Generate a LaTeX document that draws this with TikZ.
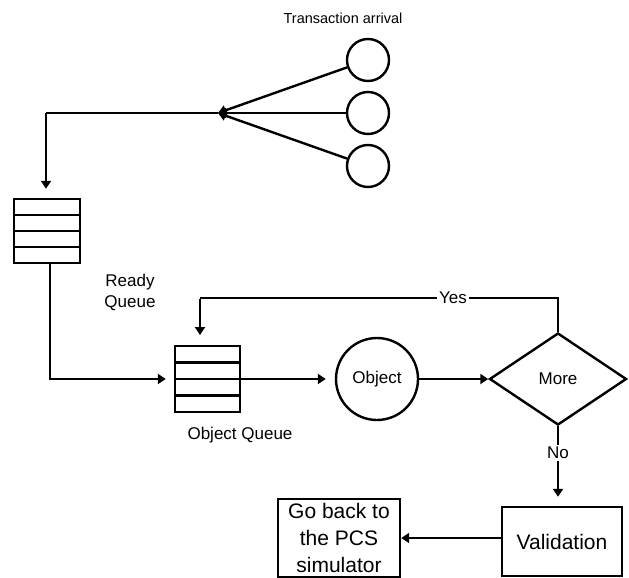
\documentclass[tikz,border=0pt]{standalone}
\usepackage{fontspec}
\setmainfont{Liberation Sans}
\usetikzlibrary{arrows.meta,shapes.geometric,calc}

\tikzset{
  line/.style={line width=2.4pt},
  arr/.style={line, -{Triangle[length=8pt,width=10pt]}},
  lbl/.style={font=\fontsize{17}{21}\selectfont, align=center, inner sep=2pt},
  arrival/.style={draw, line width=2.4pt, circle, minimum size=42pt, inner sep=0pt},
  queuebox/.style={draw, line width=2.4pt, rectangle, inner sep=0pt,
    minimum width=66pt, minimum height=65pt,
    path picture={
      \foreach \f in {0.25,0.5,0.75}
        \draw[line width=2.6pt]
          ($(path picture bounding box.north west)!\f!(path picture bounding box.south west)$)
          -- ($(path picture bounding box.north east)!\f!(path picture bounding box.south east)$);
    }},
  procbox/.style={draw, line width=2.4pt, rectangle, inner sep=0pt, align=center,
    font=\fontsize{21}{27}\selectfont},
}

\begin{document}
\begin{tikzpicture}[x=1pt,y=-1pt]
  \useasboundingbox (0,0) rectangle (629,578);

  % arrival sources
  \node[font=\fontsize{14.5}{17}\selectfont] (title) at (343,18) {Transaction arrival};
  \node[arrival] (c1) at (368,60) {};
  \node[arrival] (c2) at (368,113) {};
  \node[arrival] (c3) at (368,166) {};
  \coordinate (J) at (218,113);
  \coordinate (corner) at (46,113);

  \draw[arr] (c1) -- (J);
  \draw[arr] (c2) -- (J);
  \draw[arr] (c3) -- (J);

  % ready queue
  \node[queuebox, minimum height=64pt] (rq) at (47,231) {};
  \node[lbl] (rqlabel) at (130,292) {Ready\\Queue};
  \draw[line] (J) -- (corner);
  \draw[arr] (corner) -- ([yshift=9pt]rq.north -| corner);

  % object queue and object
  \node[queuebox, minimum width=65pt, minimum height=66pt] (oq) at (207.5,379) {};
  \node[lbl] (oqlabel) at (240,435) {Object Queue};
  \coordinate (rqturn) at (50,379);
  \draw[line] (rq.south -| rqturn) -- (rqturn);
  \draw[arr] ([xshift=-1.2pt]rqturn) -- ([xshift=-8pt]oq.west);

  \node[draw, line width=2.4pt, circle, minimum size=82pt, inner sep=0pt,
        font=\fontsize{17}{21}\selectfont] (obj) at (377,379) {Object};
  \draw[arr] (oq.east) -- ([xshift=-9pt]obj.west);

  % decision
  \node[draw, line width=2.4pt, diamond, aspect=1.49, minimum width=137pt,
        minimum height=92pt, inner sep=0pt,
        font=\fontsize{17}{21}\selectfont] (more) at (558,379) {More};
  \draw[arr] (obj.east) -- (more.west);

  % yes loop back to the object queue
  \node[lbl, fill=white] (yes) at (453,298) {Yes};
  \coordinate (yr) at (558,298);
  \coordinate (yl) at (200,298);
  \draw[line] (more.north) -- (yr) -- (yes.east);
  \draw[line] (yes.west) -- (yl);
  \draw[arr] ([yshift=-1.2pt]yl) -- (200,335);

  % no branch to validation
  \node[procbox, minimum width=120pt, minimum height=69pt] (val) at (562,541.5) {Validation};
  \node[lbl] (no) at (558,453) {No};
  \draw[line] (more.south) -- (no.north);
  \draw[arr] (no.south) -- ([yshift=9pt]val.north -| no.south);

  % back to the simulator
  \node[procbox, minimum width=122pt, minimum height=78pt] (back) at (339,538)
    {Go back to\\the PCS\\simulator};
  \draw[arr] (back.east -| val.west) -- (back.east);
\end{tikzpicture}
\end{document}
